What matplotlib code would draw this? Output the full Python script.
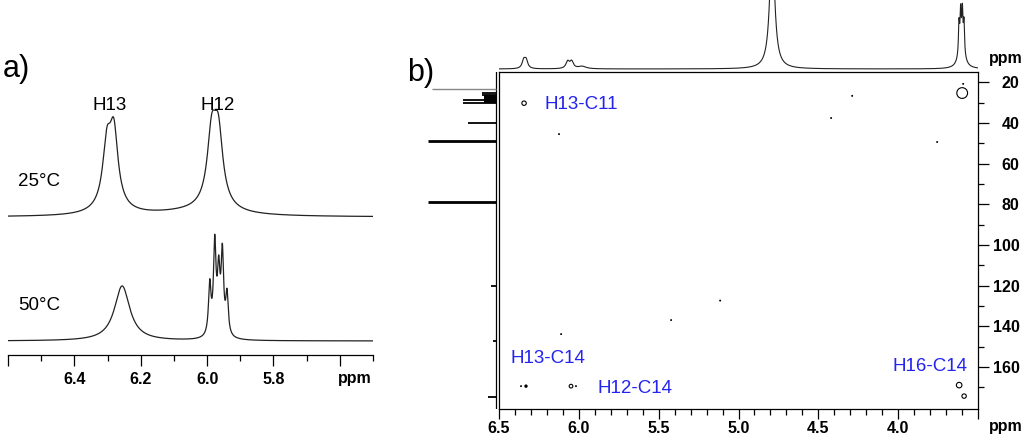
import numpy as np
import matplotlib.pyplot as plt
from matplotlib.ticker import MultipleLocator, FixedLocator

plt.rcParams['font.family'] = ['Liberation Sans', 'DejaVu Sans']

W, H = 1024, 440

# a) 1H peak lists at two temperatures: (ppm, height, half width)
peaks_25C = [(6.302, 57, 0.015), (6.281, 70, 0.015), (6.29, 8, 0.05),
             (5.986, 66, 0.016), (5.966, 66, 0.016), (5.976, 8, 0.05), (6.05, 4, 0.15)]
peaks_50C = [(6.256, 55, 0.028),
             (5.992, 50, 0.0045), (5.977, 88, 0.0045), (5.965, 55, 0.0045),
             (5.954, 78, 0.0045), (5.940, 40, 0.0045), (5.966, 6, 0.015)]
base_25C = 138
base_50C = 14
labels_a = ['H13', 'H12']

# b) 1H projection on top
peaks_1h = [(6.345, 8, 0.012), (6.330, 8, 0.012),
            (6.070, 7, 0.013), (6.045, 7, 0.013), (5.98, 2.5, 0.03),
            (4.789, 130, 0.018),
            (3.619, 30, 0.004), (3.609, 34, 0.004), (3.598, 34, 0.004),
            (3.588, 30, 0.004), (3.603, 24, 0.02)]

# b) 13C projection on the left
c13_ppm = [23.3, 25.1, 26.3, 26.8, 27.1, 27.5, 28.0, 28.7, 29.2, 29.7, 30.2, 40.0, 49.0, 78.8, 120.3, 147.4, 175.0]
c13_int = [64, 14, 14, 12, 12, 12, 12, 33, 12, 12, 33, 28, 68, 68, 5, 3, 8]

# b) HMBC cross peaks
open_h = [6.343, 3.599, 3.618, 3.587, 6.049]
open_c = [30.3, 25.3, 169.0, 174.4, 169.5]
dot_h = [6.331, 6.362, 6.018, 4.288, 4.420, 3.756, 3.593, 5.422, 5.115, 6.111, 6.124]
dot_c = [169.5, 169.5, 169.5, 26.7, 37.6, 49.4, 20.8, 137.0, 127.4, 143.9, 45.5]
cross_labels = ['H13-C11', 'H13-C14', 'H12-C14', 'H16-C14']


def spectrum(x, peaks):
    y = np.zeros_like(x)
    for c, a, w in peaks:
        y += a / (1 + ((x - c) / w) ** 2)
    return y


def rect(l, t, r, b):
    return [l / W, 1 - b / H, (r - l) / W, (b - t) / H]


fig = plt.figure(figsize=(10.24, 4.4), dpi=100)

# ---- panel a
ax = fig.add_axes(rect(8, 90, 373, 355))
x = np.linspace(6.6, 5.5, 4000)
ax.plot(x, base_25C + spectrum(x, peaks_25C), color='#222222', lw=0.9)
ax.plot(x, base_50C + spectrum(x, peaks_50C), color='#222222', lw=0.9)
ax.set_xlim(6.6, 5.5)
ax.set_ylim(0, 265)
for s in ['top', 'left', 'right']:
    ax.spines[s].set_visible(False)
ax.spines['bottom'].set_linewidth(0.9)
ax.set_yticks([])
ax.xaxis.set_major_locator(FixedLocator([6.6, 6.4, 6.2, 6.0, 5.8, 5.6]))
ax.set_xticklabels(['', '6.4', '6.2', '6.0', '5.8', ''], fontsize=11.5, fontweight='bold')
ax.xaxis.set_minor_locator(MultipleLocator(0.1))
ax.tick_params(axis='x', which='major', length=8, width=0.9, pad=4.5)
ax.tick_params(axis='x', which='minor', length=4, width=0.9)

# ---- panel b main
axb = fig.add_axes(rect(499, 72.3, 978, 408.5))
axb.set_xlim(6.5, 3.5)
axb.set_ylim(180.5, 15.1)
axb.scatter(open_h, open_c, s=[10, 60, 16, 10, 7], facecolors='none',
            edgecolors='black', linewidths=0.8)
axb.scatter(dot_h, dot_c, s=[6, 2, 2, 2, 2, 2, 2, 2, 2, 2, 2], color='black', linewidths=0)
axb.xaxis.set_major_locator(FixedLocator([6.5, 6.0, 5.5, 5.0, 4.5, 4.0, 3.5]))
axb.set_xticklabels(['6.5', '6.0', '5.5', '5.0', '4.5', '4.0', ''], fontsize=11.5, fontweight='bold')
axb.xaxis.set_minor_locator(MultipleLocator(0.1))
axb.yaxis.tick_right()
yt = [20, 40, 60, 80, 100, 120, 140, 160]
axb.yaxis.set_major_locator(FixedLocator(yt))
axb.yaxis.set_minor_locator(FixedLocator([30, 50, 70, 90, 110, 130, 150, 170]))
axb.set_yticklabels([str(v) for v in yt], fontsize=11.5, fontweight='bold')
for lab in axb.get_yticklabels():
    lab.set_ha('right')
axb.tick_params(axis='x', which='major', length=7, width=0.9, pad=2)
axb.tick_params(axis='x', which='minor', length=4, width=0.9)
axb.tick_params(axis='y', which='major', length=8, width=0.9, pad=22)
axb.tick_params(axis='y', which='minor', length=4, width=0.9)
for s in axb.spines.values():
    s.set_linewidth(0.9)

blue = '#2424f0'
axb.text(6.218, 30.7, cross_labels[0], color=blue, fontsize=13.5, ha='left', va='center')
axb.text(6.425, 155.7, cross_labels[1], color=blue, fontsize=13.5, ha='left', va='center')
axb.text(5.880, 170.5, cross_labels[2], color=blue, fontsize=13.5, ha='left', va='center')
axb.text(4.038, 159.8, cross_labels[3], color=blue, fontsize=13.5, ha='left', va='center')

# ---- top projection
axt = fig.add_axes(rect(499, 0, 978, 71))
xt = np.linspace(6.5, 3.5, 6000)
axt.plot(xt, spectrum(xt, peaks_1h), color='#222222', lw=0.8)
axt.set_xlim(6.5, 3.5)
axt.set_ylim(-2, 69)
axt.axis('off')

# ---- left projection
axl = fig.add_axes(rect(420, 72.3, 499, 408.5))
axl.set_ylim(180.5, 15.1)
axl.set_xlim(76, -3)
axl.axvline(0, color='black', lw=0.9)
for p, v in zip(c13_ppm, c13_int):
    if p < 24:
        axl.hlines(p, 0, v, color='#888888', lw=1)
    elif v > 60:
        axl.hlines(p, 0, v, color='black', lw=2)
    else:
        axl.hlines(p, 0, v, color='black', lw=1.3)
axl.axis('off')

# ---- figure texts
def ftext(px, py, s, **kw):
    fig.text(px / W, 1 - py / H, s, **kw)

ftext(16, 69, 'a)', fontsize=22, ha='center', va='center')
ftext(421, 73, 'b)', fontsize=22, ha='center', va='center')
ftext(110, 105, labels_a[0], fontsize=13.5, ha='center', va='center')
ftext(218, 105, labels_a[1], fontsize=13.5, ha='center', va='center')
ftext(18, 182, '25°C', fontsize=13.5, ha='left', va='center')
ftext(18, 306, '50°C', fontsize=13.5, ha='left', va='center')
ftext(355, 378, 'ppm', fontsize=11.5, fontweight='bold', ha='center', va='center')
ftext(1006, 59, 'ppm', fontsize=11.5, fontweight='bold', ha='center', va='center')
ftext(1006, 426, 'ppm', fontsize=11.5, fontweight='bold', ha='center', va='center')

fig.savefig('out.png', dpi=100)
